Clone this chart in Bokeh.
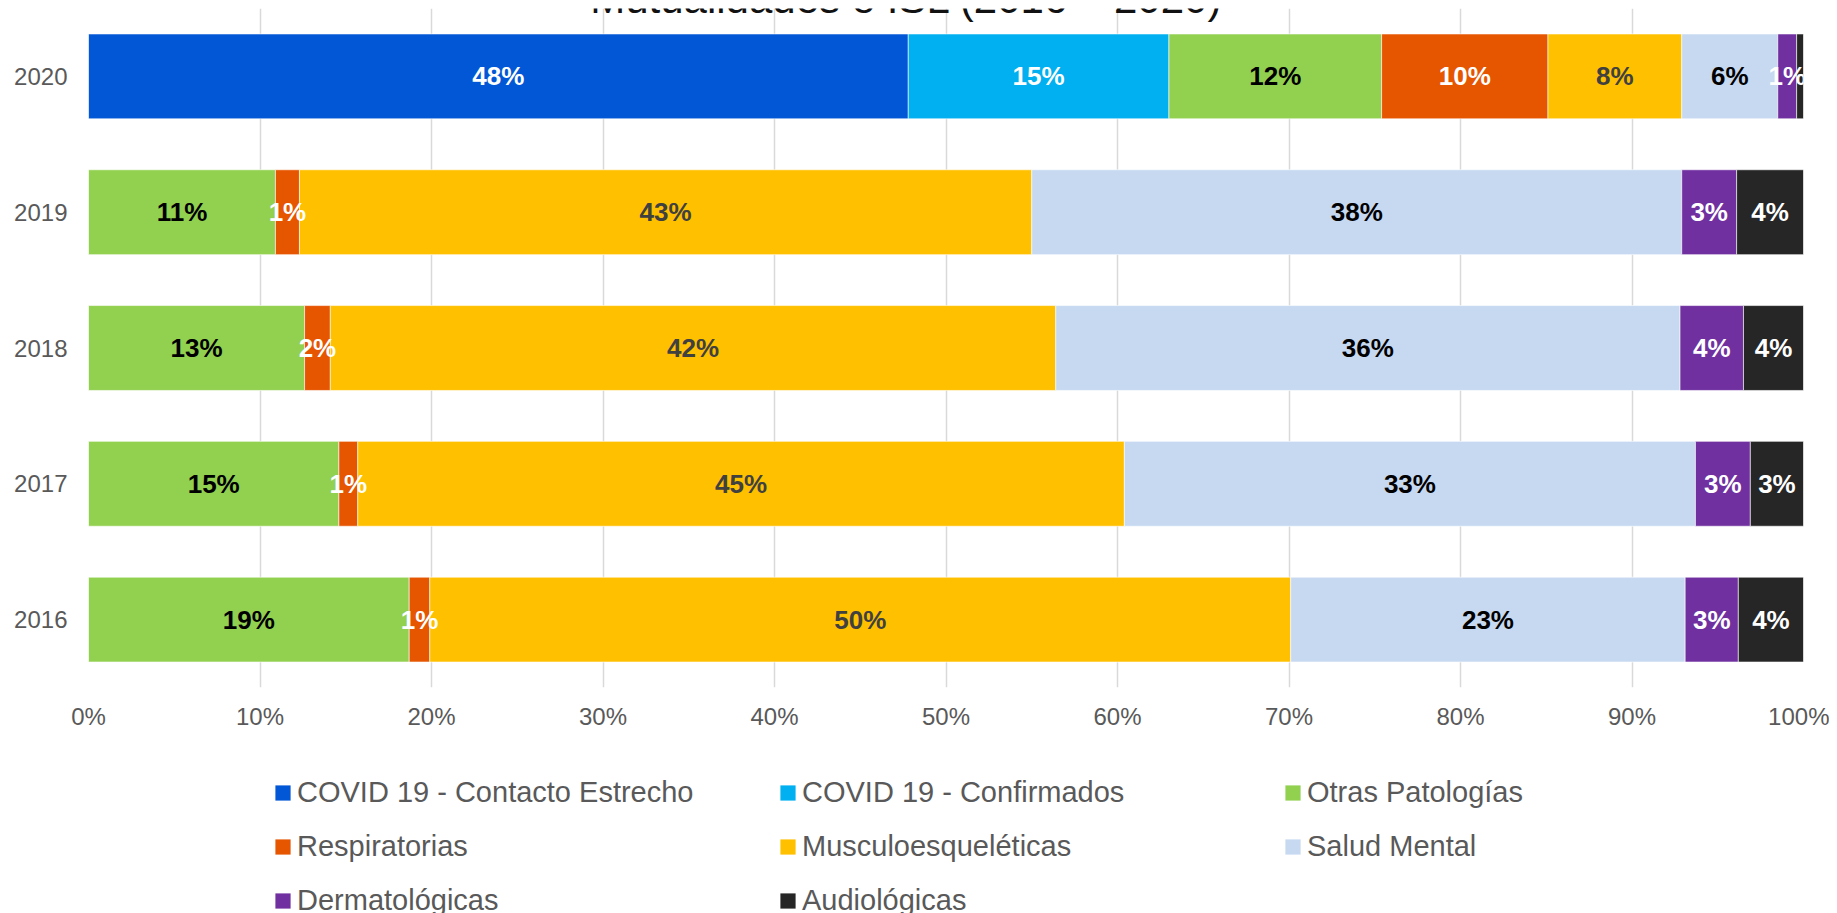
from bokeh.plotting import figure
from bokeh.models import (ColumnDataSource, Range1d, FixedTicker, PrintfTickFormatter,
                          Legend, LegendItem, Label)
from bokeh.layouts import column
from bokeh.core.properties import value
from bokeh.embed import file_html
from bokeh.resources import INLINE

# ---------------- data ----------------
years = ["2020", "2019", "2018", "2017", "2016"]
series = ["COVID 19 - Contacto Estrecho", "COVID 19 - Confirmados", "Otras Patologías",
          "Respiratorias", "Musculoesqueléticas", "Salud Mental",
          "Dermatológicas", "Audiológicas"]
covid_contacto    = [47.8, 0.0, 0.0, 0.0, 0.0]
covid_confirmados = [15.2, 0.0, 0.0, 0.0, 0.0]
otras_patologias  = [12.4, 10.9, 12.6, 14.6, 18.7]
respiratorias     = [9.7, 1.4, 1.5, 1.1, 1.2]
musculo           = [7.8, 42.7, 42.3, 44.7, 50.2]
salud_mental      = [5.6, 37.9, 36.4, 33.3, 23.0]
dermatologicas    = [1.1, 3.2, 3.7, 3.2, 3.1]
audiologicas      = [0.4, 3.9, 3.5, 3.1, 3.8]
x_ticks = [0, 10, 20, 30, 40, 50, 60, 70, 80, 90, 100]
title_text = "Mutualidades e ISL (2016 – 2020)"

values = [covid_contacto, covid_confirmados, otras_patologias, respiratorias,
          musculo, salud_mental, dermatologicas, audiologicas]
colors = ["#0157D5", "#00B0F0", "#92D050", "#E65500", "#FFC000", "#C6D9F1", "#7030A0", "#262626"]
label_colors = ["white", "white", "black", "white", "#404040", "black", "white", "white"]

n = len(years)
ypos = [n - 1 - i for i in range(n)]
keys = [f"s{i}" for i in range(len(series))]
data = {"y": ypos}
for k, v in zip(keys, values):
    data[k] = v
src = ColumnDataSource(data)

p = figure(frame_width=1715, frame_height=679, x_range=Range1d(0, 100),
           y_range=Range1d(-0.5, n - 0.5),
           output_backend="svg", toolbar_location=None,
           min_border_left=88, min_border_right=26, min_border_top=8, min_border_bottom=44)
p.outline_line_color = None
p.background_fill_color = "white"
p.border_fill_color = "white"

rends = p.hbar_stack(keys, y="y", height=0.625, color=colors, line_color="white",
                     line_width=0.6, source=src)

# segment labels
lx, ly, lt, lc = [], [], [], []
for row in range(n):
    cum = 0.0
    for si, v in enumerate(values):
        val = v[row]
        if int(val + 0.5) >= 1:
            lx.append(cum + val / 2.0)
            ly.append(ypos[row])
            lt.append(f"{int(val + 0.5)}%")
            lc.append(label_colors[si])
        cum += val
lsrc = ColumnDataSource(dict(x=lx, y=ly, t=lt, c=lc))
p.text(x="x", y="y", text="t", text_color="c", source=lsrc, text_align="center",
       text_baseline="middle", text_font=value("Liberation Sans"), text_font_style="bold",
       text_font_size=value("26px"))

# axes
p.xaxis.ticker = FixedTicker(ticks=x_ticks)
p.xaxis.formatter = PrintfTickFormatter(format="%d%%")
p.yaxis.ticker = FixedTicker(ticks=ypos)
p.yaxis.major_label_overrides = {ypos[i]: years[i] for i in range(n)}
for ax in (p.xaxis[0], p.yaxis[0]):
    ax.axis_line_color = None
    ax.major_tick_line_color = None
    ax.minor_tick_line_color = None
    ax.major_tick_out = 0
    ax.major_tick_in = 0
    ax.minor_tick_out = 0
    ax.major_label_text_font = "Liberation Sans"
    ax.major_label_text_font_size = "24px"
    ax.major_label_text_color = "#595959"
p.xaxis.major_label_standoff = 15
p.yaxis.major_label_standoff = 21

p.ygrid.visible = False
p.xgrid.ticker = FixedTicker(ticks=x_ticks)
p.xgrid.grid_line_color = "#D9D9D9"
p.xgrid.grid_line_width = 1.5

# title (cropped at top in the reference)
p.add_layout(Label(x=47.7, y=n - 0.5 + 10 / 135.8, text=title_text, text_align="center",
                   text_baseline="alphabetic", text_font="Liberation Sans",
                   text_font_size="42px", text_color="#111111"))

# legend panel (separate strip below the chart)
p2 = figure(width=1829, height=182, x_range=Range1d(0, 1), y_range=Range1d(0, 1),
            x_axis_type=None, y_axis_type=None, min_border=0,
            output_backend="svg", toolbar_location=None)
p2.outline_line_color = None
p2.grid.visible = False
swatches = [p2.hbar(y=[0.5], left=[0], right=[0], height=0, fill_color=c, line_color=None)
            for c in colors]
items = [LegendItem(label=s, renderers=[r]) for s, r in zip(series, swatches)]
legend = Legend(items=items, orientation="horizontal", ncols=3, location=(185, -3),
                glyph_width=19, glyph_height=19, label_standoff=5, label_width=460,
                label_height=30, spacing=21, padding=0, margin=0,
                label_text_font="Liberation Sans", label_text_font_size="29px",
                label_text_color="#595959", border_line_alpha=0, background_fill_alpha=0)
p2.add_layout(legend, "center")

layout = column(p, p2, spacing=0)
open("out.html", "w").write(file_html(layout, INLINE))
